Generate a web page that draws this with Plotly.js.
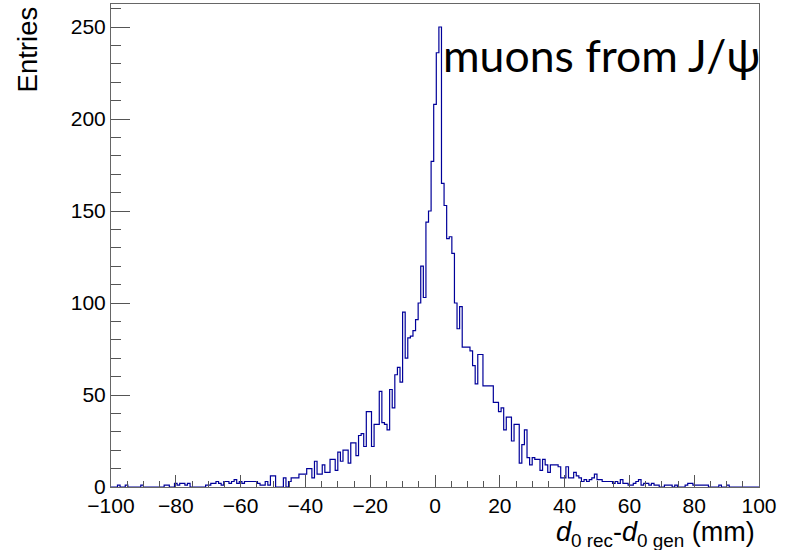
<!DOCTYPE html>
<html>
<head>
<meta charset="utf-8">
<script src="https://cdn.plot.ly/plotly-3.0.1.min.js"></script>
<style>html,body{margin:0;padding:0;background:#fff;}#plot{width:788px;height:550px;}</style>
</head>
<body>
<div id="plot"></div>
<script>
// Histogram: 251 bins of 0.8 mm, centred on multiples of 0.8 mm (from -100 to +100)
const binWidth = 0.8;
const firstEdge = -100.4;

// counts, left to right (bin centres -100.0, -99.2, ..., 0, ..., 100.0)
const countsLeftTail = [ // centres -100.0 .. -67.2 (42 bins)
  0,0,0,1,0,0,1,0,0,0,0,0,1,0,0,0,0,0,0,0,0,1,1,0,0,2,1,2,2,1,2,0,0,0,0,0,0,1,1,2,2,3
];
const countsLeftMid = [ // centres -66.4 .. -0.8 (83 bins)
  2,1,3,3,2,3,4,2,3,2,3,3,3,3,3,2,1,1,3,1,6,6,0,0,0,5,0,3,5,5,5,7,7,7,10,10,5,14,7,7,12,8,8,
  15,15,9,19,14,20,20,13,24,24,17,28,29,22,41,41,22,34,34,52,35,34,31,53,43,61,65,57,95,70,81,82,85,91,100,120,103,144,150,177,208,236
];
const countsPeak = [250]; // centre 0
const countsRightMid = [ // centres 0.8 .. 56.0 (70 bins)
  165,153,135,136,127,100,86,98,76,76,76,74,66,56,72,72,55,55,55,55,46,46,41,43,31,38,38,25,34,34,
  13,23,31,16,12,16,15,15,9,15,12,8,12,12,12,11,5,5,11,5,5,8,6,5,3,4,3,4,5,7,4,4,3,3,3,3,2,3,2,4
];
const countsRightTail = [ // centres 56.8 .. 100.0 (55 bins)
  2,2,1,1,2,3,4,1,2,2,1,2,1,1,0,0,1,1,1,0,1,0,0,0,1,2,2,1,1,1,1,1,1,0,0,0,0,1,0,0,1,0,0,0,0,0,0,0,0,0,0,0,0,0,0
];

const counts = [].concat(countsLeftTail, countsLeftMid, countsPeak, countsRightMid, countsRightTail);

// build step outline (left edges + final right edge)
const xs = [], ys = [];
for (let i = 0; i < counts.length; i++) {
  xs.push(firstEdge + i * binWidth);
  ys.push(counts[i]);
}
xs.push(firstEdge + counts.length * binWidth);
ys.push(counts[counts.length - 1]);

const trace = {
  type: 'scatter', mode: 'lines', x: xs, y: ys,
  line: {shape: 'hv', color: '#000099', width: 1.2},
  hoverinfo: 'skip', showlegend: false
};

const axisFont = {family: 'Liberation Sans, Arial, sans-serif', size: 21, color: '#000'};

const layout = {
  width: 788, height: 550,
  margin: {l: 111, r: 29, t: 4, b: 63, pad: 0},
  paper_bgcolor: '#fff', plot_bgcolor: '#fff',
  showlegend: false,
  xaxis: {
    range: [-100, 100], tickvals: [-100,-80,-60,-40,-20,0,20,40,60,80,100],
    ticks: 'inside', ticklen: 12, tickwidth: 1, tickcolor: '#555',
    minor: {dtick: 5, tick0: 0, ticks: 'inside', ticklen: 6, tickcolor: '#555', showgrid: false},
    showline: true, linecolor: '#666', linewidth: 1, mirror: true,
    showgrid: false, zeroline: false, tickfont: axisFont, fixedrange: true
  },
  yaxis: {
    range: [0, 262.5], tickvals: [0,50,100,150,200,250],
    ticks: 'inside', ticklen: 19, tickwidth: 1, tickcolor: '#555',
    minor: {dtick: 10, tick0: 0, ticks: 'inside', ticklen: 10, tickcolor: '#555', showgrid: false},
    showline: true, linecolor: '#666', linewidth: 1, mirror: true,
    showgrid: false, zeroline: false, tickfont: axisFont, fixedrange: true
  },
  annotations: [
    {text: 'muons from J/ψ', xref: 'paper', yref: 'paper', x: 0.509, y: 0.896,
     xanchor: 'left', yanchor: 'middle', showarrow: false,
     font: {family: 'Lato, Open Sans, sans-serif', size: 44.5, color: '#000'}},
    {text: 'Entries', xref: 'paper', yref: 'paper', x: -0.129, y: 1.0,
     xanchor: 'center', yanchor: 'top', textangle: -90, showarrow: false,
     font: {family: 'Liberation Sans, Arial, sans-serif', size: 27.5, color: '#000'}},
    {text: '<i>d</i><sub>0 rec</sub>-<i>d</i><sub>0 gen</sub> (mm)', xref: 'paper', yref: 'paper',
     x: 0.997, y: -0.097, xanchor: 'right', yanchor: 'middle', showarrow: false,
     font: {family: 'Liberation Sans, Arial, sans-serif', size: 27, color: '#000'}}
  ]
};

Plotly.newPlot('plot', [trace], layout, {staticPlot: true, displayModeBar: false});
</script>
</body>
</html>
